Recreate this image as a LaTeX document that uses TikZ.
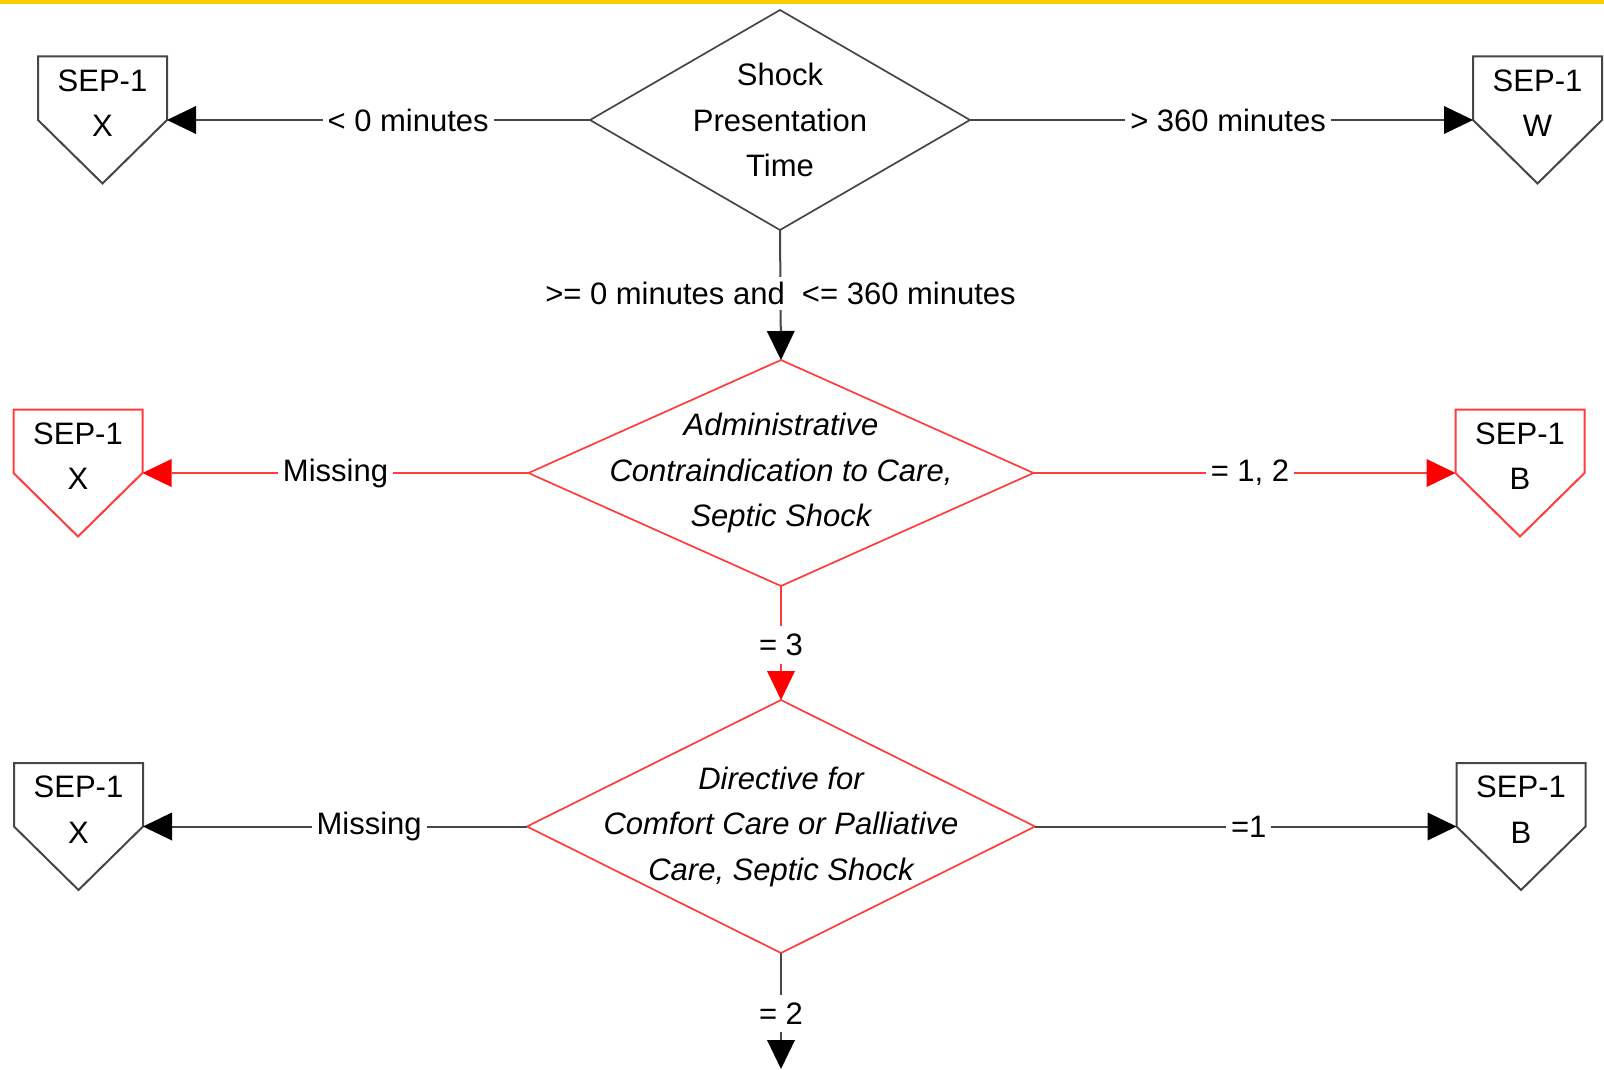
\documentclass[tikz,border=0pt]{standalone}
\usepackage{fontspec}
\setmainfont{Liberation Sans}
\usetikzlibrary{shapes.geometric,arrows.meta,calc}

\definecolor{linegray}{RGB}{70,70,70}
\definecolor{linered}{RGB}{255,60,60}
\definecolor{topbar}{RGB}{255,204,0}

% outline of a SEP-1 outcome box: square top, pointed bottom
\newcommand\pentoutline[2]{%
  \draw[#2, line width=2pt, line join=miter]
    (#1.north west) -- (#1.north east) -- (#1.east) -- (#1.south) -- (#1.west) -- cycle;}

\begin{document}
\begin{tikzpicture}[x=1pt,y=-1pt,
  every node/.style={font=\fontsize{31}{45.5}\selectfont},
  decision/.style={shape=diamond, draw=#1, line width=1.7pt, inner sep=0pt, outer sep=0pt},
  endbox/.style={shape=rectangle, minimum width=129pt, minimum height=127pt,
                 inner sep=0pt, outer sep=0pt},
  boxtext/.style={yshift=17pt, align=center},
  flowblack/.style={draw=linegray, line width=2pt,
                    -{Triangle[length=29pt,width=28pt,color=black,line width=0pt]}},
  flowred/.style={draw=linered, line width=2pt,
                  -{Triangle[length=29pt,width=28pt,color=red,line width=0pt]}},
  lbl/.style={fill=white, inner xsep=5pt, inner ysep=5pt},
  tall lbl/.style={lbl, inner ysep=8pt},
]
\useasboundingbox (0,0) rectangle (1604,1070);
\fill[topbar] (0,0) rectangle (1604,4.5);

% decisions
\node[decision=linegray, minimum width=380pt, minimum height=220pt,
      label={[align=center]center:Shock\\Presentation\\Time}] (d1) at (780,120) {};
\node[decision=linered, minimum width=505pt, minimum height=226pt,
      label={[align=center,font=\fontsize{31}{45.5}\selectfont\itshape]center:Administrative\\Contraindication to Care,\\Septic Shock}] (d2) at (781,473) {};
\node[decision=linered, minimum width=508pt, minimum height=253pt,
      label={[align=center,font=\fontsize{31}{45.5}\selectfont\itshape]center:Directive for\\Comfort Care or Palliative\\Care, Septic Shock}] (d3) at (781,826.5) {};

% outcome boxes
\node[endbox, label={[boxtext]center:SEP-1\\X}] (p1) at (102.5,120) {};
\node[endbox, label={[boxtext]center:SEP-1\\W}] (p2) at (1537.5,120) {};
\node[endbox, label={[boxtext]center:SEP-1\\X}] (p3) at (78,473) {};
\node[endbox, label={[boxtext]center:SEP-1\\B}] (p4) at (1520,473) {};
\node[endbox, label={[boxtext]center:SEP-1\\X}] (p5) at (78.5,826.5) {};
\node[endbox, label={[boxtext]center:SEP-1\\B}] (p6) at (1521,826.5) {};
\pentoutline{p1}{linegray}
\pentoutline{p2}{linegray}
\pentoutline{p3}{linered}
\pentoutline{p4}{linered}
\pentoutline{p5}{linegray}
\pentoutline{p6}{linegray}

\coordinate (out) at (781,1069);

% connectors
\draw[flowblack] (d1.west) -- node[lbl, pos=0.43] (l1) {< 0 minutes} (p1.east);
\draw[flowblack] (d1.east) -- node[lbl, pos=0.513] (l2) {> 360 minutes} (p2.west);
\draw[flowblack] (d1.south) -- node[lbl, pos=0.49] (l3) {>= 0 minutes and~ <= 360 minutes} (d2.north);
\draw[flowred] (d2.west) -- node[lbl, pos=0.5] (l4) {Missing} (p3.east);
\draw[flowred] (d2.east) -- node[lbl, pos=0.513] (l5) {= 1, 2} (p4.west);
\draw[flowred] (d2.south) -- node[tall lbl, pos=0.52] (l6) {= 3} (d3.north);
\draw[flowblack] (d3.west) -- node[lbl, pos=0.411] (l7) {Missing} (p5.east);
\draw[flowblack] (d3.east) -- node[lbl, pos=0.507] (l8) {=1} (p6.west);
\draw[flowblack] (d3.south) -- node[tall lbl, pos=0.52] (l9) {= 2} (out);
\end{tikzpicture}
\end{document}
